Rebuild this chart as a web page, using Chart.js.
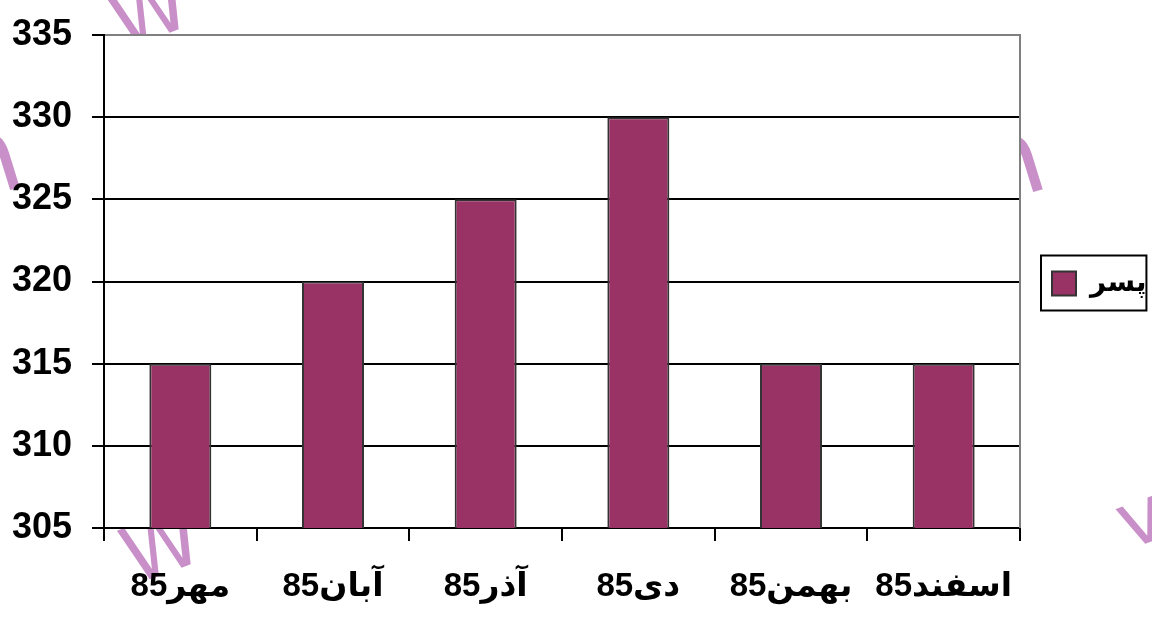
<!DOCTYPE html>
<html>
<head>
<meta charset="utf-8">
<script src="https://cdn.jsdelivr.net/npm/chart.js@4.4.1/dist/chart.umd.min.js"></script>
<style>
  html, body { margin: 0; padding: 0; background: #fff; }
  .wrap { width: 1152px; height: 619px; }
</style>
</head>
<body>
<div class="wrap"><canvas class="chart" width="1152" height="619"></canvas></div>
<script>
const months = ['مهر85', 'آبان85', 'آذر85', 'دی85', 'بهمن85', 'اسفند85'];
const boys = [315, 320, 325, 330, 315, 315];
const yTicks = [305, 310, 315, 320, 325, 330, 335];
const seriesName = 'پسر';

const FONT = '"Liberation Sans", Arial, "DejaVu Sans", sans-serif';

// pink watermark behind the plot, plot area itself is filled white on top of it
const watermark = {
  id: 'watermark',
  beforeDraw(chart) {
    const {ctx, chartArea: a} = chart;
    ctx.save();
    ctx.fillStyle = '#c88fc8';
    const pieces = [
      ['W', 122, 50, -0.35, 78],
      ['W', 134, 585, -0.35, 78],
      ['n', -38, 205, -0.3, 110],
      ['n', 985, 207, -0.3, 110],
      ['v', 1128, 550, -0.35, 78]
    ];
    pieces.forEach(([t, x, y, r, size]) => {
      ctx.save();
      ctx.translate(x, y);
      ctx.rotate(r);
      ctx.font = size + 'px "DejaVu Sans", sans-serif';
      ctx.fillText(t, 0, 0);
      ctx.restore();
    });
    ctx.fillStyle = '#fff';
    ctx.fillRect(a.left, a.top, a.right - a.left, a.bottom - a.top);
    ctx.restore();
  }
};

// keep the legend centred on the plot height, not the whole canvas
const legendSpan = {
  id: 'legendSpan',
  afterLayout(chart) {
    const lg = chart.legend;
    lg.top = chart.chartArea.top + 2;
    lg.bottom = chart.chartArea.bottom + 2;
  }
};

// gray right edge of the plot and the box round the legend
const frames = {
  id: 'frames',
  afterDraw(chart) {
    const {ctx, chartArea: a} = chart;
    ctx.save();
    ctx.strokeStyle = '#808080';
    ctx.lineWidth = 2;
    ctx.beginPath();
    ctx.moveTo(a.right, a.top - 1);
    ctx.lineTo(a.right, a.bottom);
    ctx.stroke();

    const hb = chart.legend.legendHitBoxes[0];
    if (hb) {
      ctx.strokeStyle = '#000';
      ctx.lineWidth = 2;
      ctx.strokeRect(hb.left - 11, hb.top - 14, hb.width + 11, hb.height + 27);
    }
    ctx.restore();
  }
};

new Chart(document.querySelector('.chart'), {
  type: 'bar',
  data: {
    labels: months,
    datasets: [{
      label: seriesName,
      data: boys,
      backgroundColor: '#993366',
      borderColor: '#333333',
      borderWidth: 2,
      borderSkipped: false,
      barPercentage: 0.406,
      categoryPercentage: 1
    }]
  },
  options: {
    responsive: false,
    animation: false,
    layout: { padding: { left: 12, top: 35, right: 4, bottom: 0 } },
    plugins: {
      tooltip: { enabled: false },
      legend: {
        position: 'right',
        maxWidth: 128,
        labels: {
          color: '#000',
          font: { family: FONT, size: 28, weight: 'bold' },
          boxWidth: 24,
          boxHeight: 24,
          padding: 32,
          generateLabels(chart) {
            return [{
              text: seriesName,
              fillStyle: '#993366',
              strokeStyle: '#333333',
              lineWidth: 2,
              datasetIndex: 0
            }];
          }
        }
      }
    },
    scales: {
      x: {
        offset: true,
        border: { color: '#000', width: 2 },
        grid: {
          offset: true,
          drawOnChartArea: false,
          drawTicks: true,
          tickLength: 13,
          tickColor: '#000',
          lineWidth: 2
        },
        ticks: {
          color: '#000',
          padding: 26,
          maxRotation: 0,
          font: { family: FONT, size: 33, weight: 'bold' }
        },
        afterFit(axis) {
          axis.height = 91;
          axis.paddingLeft = 0;
          axis.paddingRight = 0;
        }
      },
      y: {
        min: yTicks[0],
        max: yTicks[yTicks.length - 1],
        border: { color: '#000', width: 2 },
        grid: {
          color: ctx => ctx.tick && ctx.tick.value === yTicks[yTicks.length - 1] ? '#808080' : '#000',
          tickColor: '#000',
          lineWidth: 2,
          tickLength: 12
        },
        ticks: {
          stepSize: 5,
          color: '#000',
          padding: 20,
          font: { family: FONT, size: 36, weight: 'bold' }
        },
        afterBuildTicks(axis) {
          axis.ticks = yTicks.map(v => ({ value: v }));
        },
        afterFit(axis) {
          axis.width = 92;
          axis.paddingTop = 0;
          axis.paddingBottom = 0;
        }
      }
    }
  },
  plugins: [watermark, legendSpan, frames]
});
</script>
</body>
</html>
